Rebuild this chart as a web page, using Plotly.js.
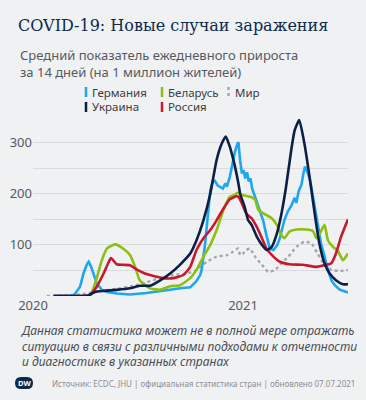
<!DOCTYPE html>
<html>
<head>
<meta charset="utf-8">
<script src="https://cdn.plot.ly/plotly-3.0.1.min.js"></script>
<style>
html,body{margin:0;padding:0;background:#f0f1f3;}
#chart{width:366px;height:400px;}
</style>
</head>
<body>
<div id="chart"></div>
<script>
// ---- Data ----
const seriesNames = ["Германия", "Украина", "Беларусь", "Россия", "Мир"];

const germanyDates = ["2020-02-06","2020-03-12","2020-03-23","2020-03-29","2020-04-04","2020-04-07","2020-04-11","2020-04-15","2020-04-21","2020-04-30","2020-05-09","2020-05-26","2020-06-18","2020-07-17","2020-08-15","2020-09-14","2020-10-01","2020-10-11","2020-10-18","2020-10-21","2020-10-27","2020-11-02","2020-11-05","2020-11-09","2020-11-13","2020-11-18","2020-11-22","2020-11-27","2020-12-01","2020-12-04","2020-12-09","2020-12-15","2020-12-18","2020-12-22","2020-12-24","2020-12-27","2020-12-30","2021-01-02","2021-01-05","2021-01-08","2021-01-11","2021-01-14","2021-01-17","2021-01-22","2021-01-28","2021-02-05","2021-02-11","2021-02-17","2021-02-23","2021-03-01","2021-03-06","2021-03-11","2021-03-14","2021-03-20","2021-03-26","2021-04-01","2021-04-04","2021-04-08","2021-04-13","2021-04-16","2021-04-19","2021-04-22","2021-04-27","2021-04-30","2021-05-06","2021-05-11","2021-05-17","2021-05-23","2021-05-29","2021-06-04","2021-06-10","2021-06-19","2021-06-26","2021-07-03"];
const germanyValues = [0,1,18,44,62,67,58,44,25,12,8,5,3,6,11,15,17,28,40,51,103,168,207,223,225,216,214,210,220,214,233,266,282,297,301,265,240,246,230,242,224,230,210,194,174,148,118,92,90,98,112,132,148,165,176,192,182,205,218,238,253,246,230,213,174,142,103,77,51,31,21,12,9,7];

const ukraineDates = ["2020-02-06","2020-03-23","2020-04-06","2020-04-18","2020-05-03","2020-05-26","2020-06-18","2020-07-05","2020-07-23","2020-08-09","2020-08-27","2020-09-13","2020-10-01","2020-10-12","2020-10-24","2020-11-05","2020-11-16","2020-11-25","2020-12-02","2020-12-09","2020-12-18","2020-12-24","2020-12-27","2021-01-04","2021-01-10","2021-01-16","2021-01-25","2021-02-03","2021-02-11","2021-02-20","2021-03-01","2021-03-09","2021-03-17","2021-03-26","2021-04-01","2021-04-09","2021-04-18","2021-04-27","2021-05-06","2021-05-14","2021-05-23","2021-06-01","2021-06-12","2021-06-24","2021-07-03"];
const ukraineValues = [0,0,1,8,10,12,15,20,20,30,44,61,83,109,148,200,266,298,312,292,253,220,200,174,148,139,116,100,90,96,122,161,213,285,324,344,298,233,161,103,64,44,31,23,23];

const belarusDates = ["2020-02-06","2020-04-09","2020-04-21","2020-04-30","2020-05-09","2020-05-23","2020-06-06","2020-06-18","2020-06-27","2020-07-05","2020-07-23","2020-08-09","2020-08-27","2020-09-13","2020-10-01","2020-10-12","2020-10-24","2020-11-05","2020-11-16","2020-11-28","2020-12-09","2020-12-18","2020-12-22","2021-01-01","2021-01-16","2021-01-22","2021-01-28","2021-02-11","2021-02-20","2021-03-01","2021-03-09","2021-03-14","2021-03-23","2021-04-04","2021-04-21","2021-05-03","2021-05-09","2021-05-14","2021-05-23","2021-05-29","2021-06-07","2021-06-16","2021-06-24","2021-07-03"];
const belarusValues = [0,0,35,70,93,101,93,80,57,31,15,12,19,21,35,51,77,100,129,168,194,198,202,197,193,188,168,158,152,139,119,113,126,130,130,127,113,120,139,109,96,87,70,83];

const russiaDates = ["2020-02-06","2020-04-01","2020-04-09","2020-04-21","2020-05-03","2020-05-11","2020-05-16","2020-05-26","2020-06-06","2020-06-18","2020-07-01","2020-07-12","2020-07-23","2020-08-15","2020-09-02","2020-09-19","2020-10-01","2020-10-12","2020-10-24","2020-11-05","2020-11-16","2020-11-28","2020-12-09","2020-12-21","2020-12-24","2020-12-30","2021-01-07","2021-01-16","2021-01-25","2021-02-03","2021-02-11","2021-02-23","2021-03-06","2021-03-23","2021-04-15","2021-05-09","2021-05-26","2021-06-04","2021-06-12","2021-06-21","2021-07-03"];
const russiaValues = [0,0,2,18,44,64,74,62,61,60,51,45,41,35,35,41,57,90,113,129,148,171,189,195,194,181,161,152,135,113,93,77,67,62,61,57,61,64,83,116,150];

const worldDates = ["2020-01-25","2020-02-17","2020-03-23","2020-04-09","2020-04-27","2020-05-26","2020-06-24","2020-07-15","2020-08-09","2020-09-02","2020-09-25","2020-10-12","2020-10-30","2020-11-16","2020-12-04","2020-12-15","2020-12-24","2020-12-27","2021-01-01","2021-01-07","2021-01-13","2021-01-22","2021-02-03","2021-02-14","2021-02-26","2021-03-09","2021-03-21","2021-04-04","2021-04-18","2021-04-30","2021-05-11","2021-05-23","2021-06-04","2021-06-19","2021-07-03"];
const worldValues = [0,1,3,6,10,14,20,26,35,41,44,51,67,77,80,87,93,80,83,90,93,77,61,47,51,64,77,96,106,103,83,61,51,49,51];

const yTickVals = [0, 50, 100, 150, 200, 250, 300];
const yTickText = ["", "", "100", "", "200", "", "300"];
const xTickVals = ["2020-01-01", "2021-01-01"];
const xTickText = ["2020", "2021"];

// ---- Styling ----
const W = 366, H = 400;
const M = {l: 33, r: 18, t: 117, b: 104};
const colors = {
  germany: "#1ea6f0",
  ukraine: "#0c1f45",
  belarus: "#8dbf12",
  russia: "#c8192c",
  world: "#a3a7ad"
};
const FONT = "Noto Sans, Open Sans, sans-serif";

// pixel -> paper helpers for layout text
const px = x => (x - M.l) / (W - M.l - M.r);
const py = y => (H - M.b - y) / (H - M.t - M.b);

function line(x, y, color, name, extra) {
  return Object.assign({
    type: "scatter", mode: "lines", x: x, y: y, name: name,
    line: {color: color, width: 2.6, shape: "spline", smoothing: 0.5},
    hoverinfo: "skip", showlegend: false
  }, extra || {});
}

const traces = [
  line(worldDates, worldValues, colors.world, seriesNames[4], {line: {color: colors.world, width: 2.4, dash: "dot", shape: "spline", smoothing: 0.5}}),
  line(germanyDates, germanyValues, colors.germany, seriesNames[0], {line: {color: colors.germany, width: 2.6, shape: "linear"}}),
  line(belarusDates, belarusValues, colors.belarus, seriesNames[2]),
  line(russiaDates, russiaValues, colors.russia, seriesNames[3]),
  line(ukraineDates, ukraineValues, colors.ukraine, seriesNames[1])
];

// legend (custom, like the reference)
const legendItems = [
  {name: seriesNames[0], color: colors.germany, x: 86, y: 92, dash: "solid"},
  {name: seriesNames[2], color: colors.belarus, x: 162, y: 92, dash: "solid"},
  {name: seriesNames[4], color: colors.world, x: 228.5, y: 92, dash: "dot"},
  {name: seriesNames[1], color: colors.ukraine, x: 86, y: 107, dash: "solid"},
  {name: seriesNames[3], color: colors.russia, x: 162, y: 107, dash: "solid"}
];

const shapes = legendItems.map(it => ({
  type: "line", xref: "paper", yref: "paper",
  x0: px(it.x), x1: px(it.x), y0: py(it.y - 5), y1: py(it.y + 5),
  line: {color: it.color, width: 2.5, dash: it.dash}
}));
// DW logo
shapes.push({
  type: "path", xref: "paper", yref: "paper",
  path: (function(){
    const x0 = px(15), x1 = px(33), y0 = py(389), y1 = py(377), ym = py(383);
    const xr = px(21), xl = px(27);
    return `M ${xr},${y1} L ${xl},${y1} Q ${x1},${y1} ${x1},${ym} Q ${x1},${y0} ${xl},${y0} L ${xr},${y0} Q ${x0},${y0} ${x0},${ym} Q ${x0},${y1} ${xr},${y1} Z`;
  })(),
  fillcolor: "#0b2a4d", line: {width: 0}
});

const annotations = legendItems.map(it => ({
  xref: "paper", yref: "paper", x: px(it.x + 4), y: py(it.y),
  xanchor: "left", yanchor: "middle", showarrow: false,
  text: it.name, font: {family: FONT, size: 11.5, color: "#3c3c3c"}
}));

annotations.push({
  xref: "paper", yref: "paper", x: px(18), y: py(63), xanchor: "left", yanchor: "middle",
  showarrow: false, align: "left",
  text: "Средний показатель ежедневного прироста<br>за 14 дней (на 1 миллион жителей)",
  font: {family: FONT, size: 13, color: "#555a60"}
});
annotations.push({
  xref: "paper", yref: "paper", x: px(18), y: py(346), xanchor: "left", yanchor: "middle",
  showarrow: false, align: "left",
  text: "<i>Данная статистика может не в полной мере отражать<br>ситуацию в связи с различными подходами к отчетности<br>и диагностике в указанных странах</i>",
  font: {family: FONT, size: 12, color: "#4a4e54"}
});
annotations.push({
  xref: "paper", yref: "paper", x: px(50), y: py(383), xanchor: "left", yanchor: "middle",
  showarrow: false,
  text: "Источник: ECDC, JHU | официальная статистика стран | обновлено 07.07.2021",
  font: {family: FONT, size: 8, color: "#8c9096"}
});
annotations.push({
  xref: "paper", yref: "paper", x: px(24), y: py(383), xanchor: "center", yanchor: "middle",
  showarrow: false, text: "<b>DW</b>",
  font: {family: FONT, size: 7.5, color: "#ffffff"}
});

const layout = {
  width: W, height: H,
  margin: M,
  paper_bgcolor: "#f0f1f3",
  plot_bgcolor: "#f0f1f3",
  title: {
    text: "COVID-19: Новые случаи заражения",
    x: 18 / W, xanchor: "left", xref: "container",
    y: 1 - 25 / H, yanchor: "middle", yref: "container",
    font: {family: "DejaVu Serif, serif", size: 16, color: "#0b2a4d"}
  },
  xaxis: {
    type: "date",
    range: ["2020-01-01", "2021-07-03"],
    tickvals: xTickVals, ticktext: xTickText,
    showgrid: false, zeroline: false, showline: false, ticks: "",
    tickfont: {family: FONT, size: 13, color: "#555a60"},
    fixedrange: true
  },
  yaxis: {
    range: [0, 350],
    tickvals: yTickVals, ticktext: yTickText,
    showgrid: true, gridcolor: "#d8dbdf", gridwidth: 1,
    zeroline: false, showline: false, ticks: "",
    tickfont: {family: FONT, size: 13, color: "#555a60"},
    fixedrange: true
  },
  shapes: shapes,
  annotations: annotations,
  showlegend: false
};

Plotly.newPlot("chart", traces, layout, {staticPlot: true, displayModeBar: false});
</script>
</body>
</html>
